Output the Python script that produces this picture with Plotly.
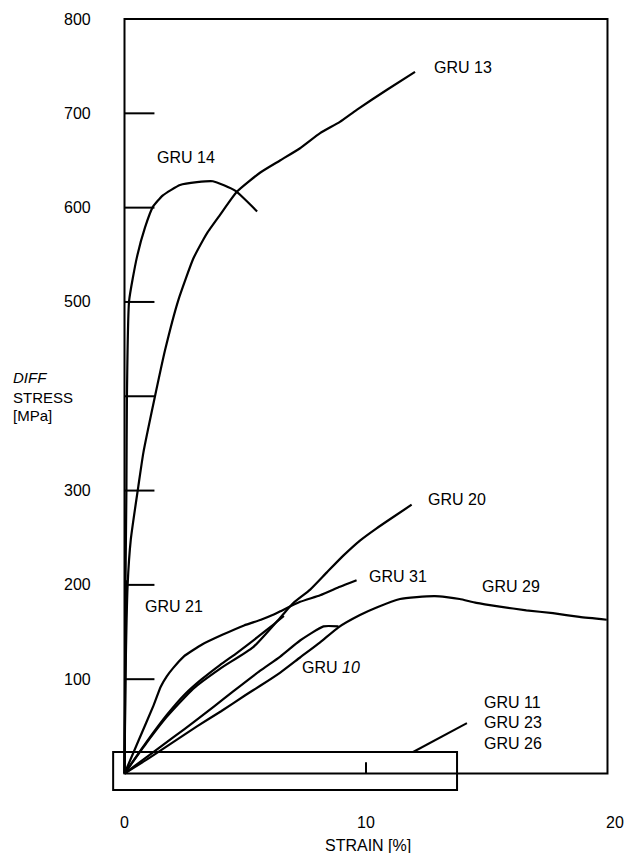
import plotly.graph_objects as go

# ---------------- data (strain in %, differential stress in MPa) ----------------
gru13_strain = [0, 0.04, 0.13, 0.26, 0.57, 0.78, 1.23, 1.68, 2.23, 2.85, 3.26, 3.42, 3.95, 4.66, 5.61, 6.44, 7.27, 8.10, 8.92, 9.63, 10.87, 12.03]
gru13_stress = [0, 99, 200, 248, 304, 340, 396, 449, 502, 546, 566, 573, 592, 617, 637, 650, 663, 679, 691, 704, 725, 744]

gru14_strain = [0, 0.02, 0.04, 0.08, 0.10, 0.19, 0.51, 0.85, 1.18, 1.59, 2.30, 3.00, 3.66, 4.58, 5.49]
gru14_stress = [0, 99, 200, 303, 398, 501, 547, 579, 601, 613, 624, 627, 628, 618, 596]

gru21_strain = [0, 0.02, 0.04, 0.06, 0.08]
gru21_stress = [0, 60, 120, 170, 205]

gru31_strain = [0, 0.6, 1.2, 1.5, 1.75, 2.02, 2.45, 3.23, 4.05, 4.95, 5.65, 6.13, 6.45, 7.27, 8.10, 8.92, 9.61]
gru31_stress = [0, 36, 72, 92, 103, 112, 124, 137, 147, 157, 163, 168, 172, 182, 189, 198, 205]

gru20_strain = [0, 0.9, 1.75, 2.85, 3.95, 5.33, 6.44, 7.00, 7.69, 8.37, 9.06, 9.75, 10.44, 11.13, 11.89]
gru20_stress = [0, 32, 60, 90, 111, 134, 165, 181, 195, 213, 231, 247, 260, 272, 285]

unlabeled_strain = [0, 0.9, 1.75, 2.5, 3.2, 3.95, 4.66, 5.48, 6.17, 6.6]
unlabeled_stress = [0, 33, 62, 84, 100, 115, 128, 144, 158, 167]

gru10_strain = [0, 1.0, 2.0, 3.0, 3.7, 4.5, 5.62, 6.45, 7.27, 8.24, 8.86]
gru10_stress = [0, 19, 38, 57, 71, 87, 109, 124, 141, 156, 156]

gru29_strain = [0, 1, 2, 3, 4, 5, 5.62, 6.45, 7.27, 8.10, 8.86, 9.75, 10.44, 11.41, 12.10, 12.85, 13.33, 13.88, 14.57, 15.54, 16.64, 17.74, 18.84, 19.97]
gru29_stress = [0, 16, 33, 50, 66, 83, 93, 107, 123, 139, 155, 168, 176, 185, 187, 188, 187, 185, 181, 177, 173, 170, 166, 163]

# axis ticks / labels
y_tick_marks = [100, 200, 300, 400, 500, 600, 700]
y_tick_labels = [100, 200, 300, 500, 600, 700, 800]
x_tick_labels = [0, 10, 20]

# curve labels: (text, strain, stress)
label_text = ["GRU 13", "GRU 14", "GRU 20", "GRU 31", "GRU 29", "GRU 21", "GRU <i>10</i>", "GRU 11", "GRU 23", "GRU 26"]
label_x = [12.73, 1.26, 12.48, 10.04, 14.70, 0.77, 7.27, 14.80, 14.80, 14.80]
label_y = [749, 653, 291, 209, 198, 177, 112, 75, 54, 32]

# inset box around the low-stress samples and its leader line
box_x = [-0.47, 13.77]
box_y = [-17.5, 22.8]
leader_x = [11.95, 14.18]
leader_y = [22.8, 53.5]

# ---------------- figure ----------------
series = [
    (gru13_strain, gru13_stress),
    (gru14_strain, gru14_stress),
    (gru21_strain, gru21_stress),
    (gru31_strain, gru31_stress),
    (gru20_strain, gru20_stress),
    (unlabeled_strain, unlabeled_stress),
    (gru10_strain, gru10_stress),
    (gru29_strain, gru29_stress),
]

fig = go.Figure()
for xs, ys in series:
    fig.add_trace(go.Scatter(x=xs, y=ys, mode="lines",
                             line=dict(color="black", width=2.2, shape="spline", smoothing=0.5),
                             hoverinfo="skip", showlegend=False))

FONT = "Liberation Sans, Arial, Helvetica, sans-serif"
FS = 16
shapes = []
# frame
shapes.append(dict(type="rect", xref="x", yref="y", x0=0, x1=20, y0=0, y1=800,
                   line=dict(color="black", width=2)))
# inner y ticks
for v in y_tick_marks:
    shapes.append(dict(type="line", xref="x", yref="y", x0=0, x1=1.24, y0=v, y1=v,
                       line=dict(color="black", width=2)))
# x tick at 10
shapes.append(dict(type="line", xref="x", yref="y", x0=10, x1=10, y0=0, y1=12,
                   line=dict(color="black", width=2)))
# inset box
shapes.append(dict(type="rect", xref="x", yref="y", x0=box_x[0], x1=box_x[1], y0=box_y[0], y1=box_y[1],
                   line=dict(color="black", width=2)))
# leader line
shapes.append(dict(type="line", xref="x", yref="y", x0=leader_x[0], x1=leader_x[1], y0=leader_y[0], y1=leader_y[1],
                   line=dict(color="black", width=2)))

ann = []
for t, x, y in zip(label_text, label_x, label_y):
    ann.append(dict(text=t, x=x, y=y, xref="x", yref="y", xanchor="left", yanchor="middle",
                    showarrow=False, font=dict(family=FONT, size=FS, color="black")))

# y tick labels
for v in y_tick_labels:
    ann.append(dict(text=str(v), x=-0.0135, y=v, xref="paper", yref="y", xanchor="right", yanchor="middle",
                    showarrow=False, font=dict(family=FONT, size=FS, color="black")))
# x tick labels
for v in x_tick_labels:
    ann.append(dict(text=str(v), x=v, y=-0.0279, xref="x", yref="paper", xanchor="center", yanchor="middle",
                    xshift=8 if v == 20 else 0,
                    showarrow=False, font=dict(family=FONT, size=FS, color="black")))
# axis titles
ann.append(dict(text="STRAIN [%]", x=10.08, y=-0.057, xref="x", yref="paper", xanchor="center", yanchor="middle",
                showarrow=False, font=dict(family=FONT, size=FS, color="black")))
for t, yp in [("<i>DIFF</i>", 0.5354), ("STRESS", 0.5101), ("[MPa]", 0.4873)]:
    ann.append(dict(text=t, x=-0.171, y=yp, xref="paper", yref="paper", xanchor="left", yanchor="middle",
                    showarrow=False, font=dict(family=FONT, size=15, color="black")))

fig.update_layout(
    width=625, height=853,
    margin=dict(l=100, r=5, t=10, b=53),
    paper_bgcolor="white", plot_bgcolor="white",
    xaxis=dict(range=[-1.0145, 20.518], visible=False, fixedrange=True),
    yaxis=dict(range=[-28.1, 809.56], visible=False, fixedrange=True),
    shapes=shapes, annotations=ann, showlegend=False,
)

fig.write_html("out.html")
